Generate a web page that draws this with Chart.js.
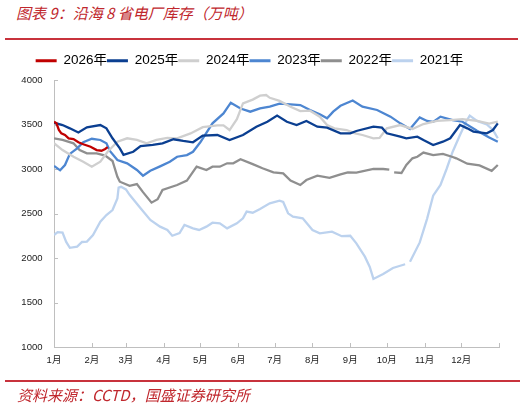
<!DOCTYPE html>
<html><head><meta charset="utf-8">
<script src="https://cdn.jsdelivr.net/npm/chart.js@4"></script>
<style>
html,body{margin:0;padding:0;background:#fff;width:525px;height:406px;overflow:hidden;}
body{position:relative;}
#title{position:absolute;left:16px;top:2px;font:italic 15px "Noto Sans CJK SC",sans-serif;color:#c0272d;white-space:nowrap;}
#topline{position:absolute;left:5px;top:38px;width:513px;height:2px;background:#c8323c;}
#botline{position:absolute;left:5px;top:380px;width:515px;height:2px;background:#c8323c;}
#source{position:absolute;left:17px;top:384px;font:italic 15px "Noto Sans CJK SC",sans-serif;color:#c0272d;white-space:nowrap;}
#c{position:absolute;left:0;top:54px;}
</style></head>
<body>
<div id="title">图表 9：沿海 8 省电厂库存（万吨）</div>
<div id="topline"></div>
<canvas id="c" width="525" height="330"></canvas>
<div id="botline"></div>
<div id="source">资料来源：CCTD，国盛证券研究所</div>
<script>
const monthTicks = [0,31,59,90,120,151,181,212,243,273,304,334,365];
const monthLabels = ['1月','2月','3月','4月','5月','6月','7月','8月','9月','10月','11月','12月',''];
const seriesNames = ['2026年','2025年','2024年','2023年','2022年','2021年'];
const seriesColors = ['#c00000','#0b3f91','#cfcfcf','#4d86d1','#8f8f8f','#bcd2ee'];

const days2026 = [0,2,4,6,9,12,16,20,24,30,35,39,42,44];
const vals2026 = [3531,3513,3438,3401,3382,3345,3337,3300,3278,3250,3213,3205,3225,3245];

const days2025 = [0,7,13,20,27,38,43,48,54,57,65,71,81,89,98,106,114,122,134,144,155,166,175,183,191,199,207,216,224,235,243,248,262,269,273,284,289,298,303,311,319,325,333,339,344,355,360,364];
const vals2025 = [3520,3494,3457,3410,3468,3494,3457,3345,3232,3160,3194,3258,3270,3289,3334,3315,3300,3375,3382,3326,3382,3475,3531,3600,3531,3494,3539,3475,3464,3400,3401,3427,3475,3464,3401,3363,3345,3363,3326,3270,3307,3345,3494,3457,3420,3401,3438,3513];

const days2024 = [0,7,16,24,31,38,44,52,60,68,76,84,93,101,112,122,134,139,144,150,155,163,169,174,177,185,194,202,210,218,224,230,240,247,253,262,267,273,284,294,303,314,325,335,347,357,364];
const vals2024 = [3290,3213,3138,3082,3026,3082,3194,3307,3345,3326,3289,3326,3350,3345,3400,3470,3490,3490,3438,3560,3738,3780,3824,3831,3800,3765,3700,3650,3655,3588,3494,3457,3438,3401,3382,3345,3350,3457,3494,3450,3505,3540,3550,3560,3540,3510,3531];

const days2023 = [0,5,9,13,19,24,31,38,43,46,52,60,68,73,79,87,95,101,109,114,120,130,139,145,153,161,169,177,185,194,202,210,218,224,229,235,245,253,265,276,284,292,300,306,311,317,327,335,347,357,364];
const vals2023 = [3035,2985,3045,3170,3232,3300,3340,3326,3289,3200,3101,3064,2989,2925,2980,3030,3082,3138,3157,3194,3300,3513,3625,3745,3680,3644,3682,3700,3735,3727,3719,3663,3615,3569,3644,3710,3770,3700,3663,3588,3513,3450,3580,3540,3530,3588,3550,3531,3430,3355,3307];

const days2022 = [0,7,16,21,27,35,42,48,52,54,62,68,73,80,85,89,101,109,117,125,130,136,142,147,153,163,171,180,188,194,202,207,216,226,235,241,248,262,270,275,277,279,285,289,294,298,303,311,319,327,330,339,349,359,364];
const vals2022 = [3345,3326,3289,3213,3176,3176,3150,3090,2913,2857,2810,2830,2740,2622,2660,2764,2820,2870,3026,2989,3026,3026,3064,3064,3110,3055,3008,2963,2951,2870,2820,2876,2925,2900,2940,2963,2959,3000,3000,2993,null,2963,2955,3045,3120,3138,3185,3157,3170,3135,3120,3060,3040,2980,3045];

const days2021 = [0,3,7,10,13,19,23,27,32,38,43,48,52,53,55,59,62,71,79,87,93,97,103,107,114,119,125,130,136,142,150,155,158,163,169,177,185,188,192,196,204,212,218,228,236,243,248,255,259,262,270,278,288,290,292,300,306,311,317,322,327,333,338,341,347,355,360,364];
const vals2021 = [2258,2290,2285,2180,2115,2127,2180,2185,2258,2408,2483,2539,2670,2790,2800,2770,2710,2558,2427,2352,2315,2250,2280,2371,2333,2315,2352,2397,2390,2333,2390,2446,2521,2509,2550,2614,2644,2630,2502,2464,2446,2315,2277,2296,2245,2250,2165,2015,1900,1765,1820,1888,1930,null,1959,2175,2440,2700,2820,3000,3194,3382,3531,3600,3540,3500,3440,3345];

const allDays = [days2026,days2025,days2024,days2023,days2022,days2021];
const allVals = [vals2026,vals2025,vals2024,vals2023,vals2022,vals2021];

const datasets = seriesNames.map((name,i)=>({
  label: name,
  data: allDays[i].map((d,j)=>({x:d, y:allVals[i][j]})),
  borderColor: seriesColors[i],
  backgroundColor: seriesColors[i],
  borderWidth: 2.3,
  pointRadius: 0,
  tension: 0,
  spanGaps: false
}));

const AXIS_COLOR = '#bfbfbf';
const tickFont = {family:'"Liberation Sans","Noto Sans CJK SC",sans-serif', size:9.5};

const inwardTicks = {
  id:'inwardTicks',
  beforeDatasetsDraw(chart){
    const {ctx, scales:{x,y}} = chart;
    ctx.save(); ctx.strokeStyle = AXIS_COLOR; ctx.lineWidth = 1;
    ctx.beginPath();
    x.ticks.forEach(t=>{ const px = Math.round(x.getPixelForValue(t.value))+0.5; ctx.moveTo(px, y.bottom); ctx.lineTo(px, y.bottom-4); });
    y.ticks.forEach(t=>{ const py = Math.round(y.getPixelForValue(t.value))+0.5; ctx.moveTo(x.left, py); ctx.lineTo(x.left+4, py); });
    ctx.stroke(); ctx.restore();
  }
};
const legendHeight = {
  id:'legendHeight',
  beforeLayout(chart){
    const lg = chart.legend;
    if (lg && !lg._patched){
      const f = lg.fit;
      lg.fit = function(){ f.call(this); this.height = 26; };
      lg._patched = true;
    }
  }
};

new Chart(document.getElementById('c'), {
  type:'line',
  data:{datasets},
  options:{
    responsive:false,
    animation:false,
    layout:{padding:{left:0,right:26,top:0,bottom:7}},
    plugins:{
      tooltip:{enabled:false},
      legend:{
        position:'top',
        labels:{
          boxWidth:21, boxHeight:3, padding:0,
          color:'#000',
          font:{family:'"Liberation Sans","Noto Sans CJK SC",sans-serif', size:13.5},
          generateLabels(chart){
            const items = Chart.defaults.plugins.legend.labels.generateLabels(chart);
            items.forEach(it=>{ it.lineWidth = 0; it.fillStyle = it.strokeStyle; });
            return items;
          }
        }
      }
    },
    scales:{
      x:{
        type:'linear', min:0, max:365,
        afterBuildTicks(scale){ scale.ticks = monthTicks.map(v=>({value:v})); },
        afterFit(scale){ scale.height = 30; },
        ticks:{
          autoSkip:false, maxRotation:0, padding:8, color:'#222', font:tickFont,
          callback(value){ const k = monthTicks.indexOf(value); return k>=0 ? monthLabels[k] : ''; }
        },
        grid:{drawOnChartArea:false, drawTicks:false},
        border:{color:AXIS_COLOR, width:1}
      },
      y:{
        min:1000, max:4000,
        afterFit(scale){ scale.width = 54; },
        ticks:{stepSize:500, padding:11.5, color:'#222', font:tickFont, callback(value){ return String(value); }},
        grid:{drawOnChartArea:false, drawTicks:false},
        border:{color:AXIS_COLOR, width:1}
      }
    }
  },
  plugins:[inwardTicks, legendHeight]
});
</script>
</body></html>
